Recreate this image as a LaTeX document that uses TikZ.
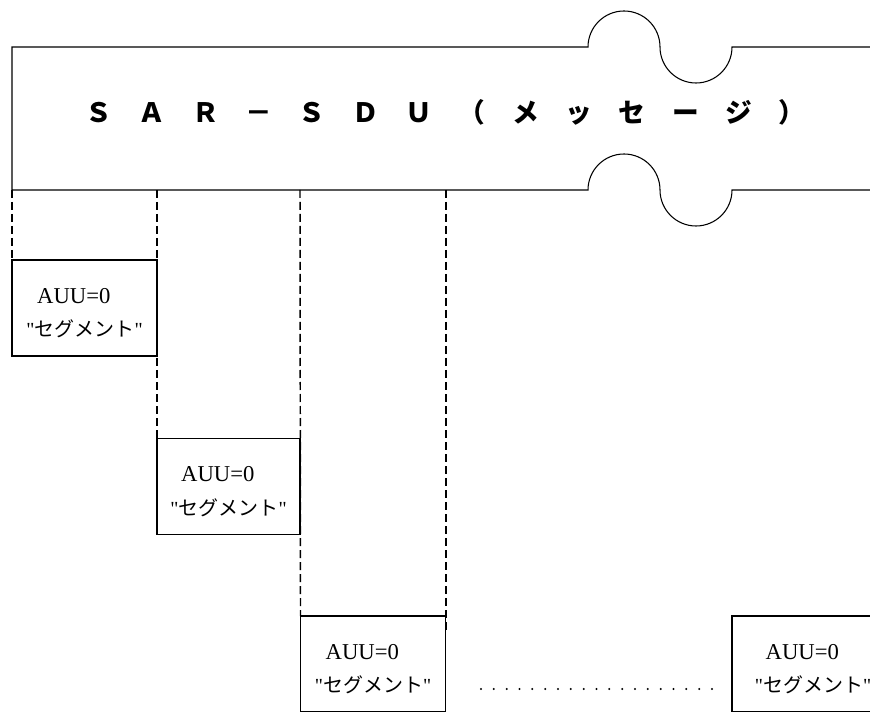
\documentclass[tikz,border=0pt]{standalone}
\usepackage{fontspec}
\setmainfont{Liberation Serif}
\newfontfamily\segfont{Liberation Serif}
\newfontfamily\jpfont{Noto Sans CJK JP}
% two lines of each segment box
\newcommand{\seglabel}{\rule{0pt}{19pt}AUU=0\kern 16pt\\%
  {\fontsize{15}{18}\selectfont"{\jpfont セグメント}"}}

\begin{document}
\begin{tikzpicture}[x=0.75pt, y=0.75pt, line width=0.8pt,
  segbox/.style={draw, shape=rectangle, outer sep=0pt, inner sep=0pt,
    minimum width=108.75pt, minimum height=72pt, align=center,
    font=\segfont\fontsize{17}{25}\selectfont},
  cut/.style={dash pattern=on 6pt off 3pt, line width=1.1pt},
  more/.style={dash pattern=on 0pt off 9.625pt, line cap=round, line width=1.7pt}]
\useasboundingbox (0,0) rectangle (870,711);
\clip (0,0) rectangle (870,711);

% message band, torn at the right
\draw (870,664) -- (732,664) arc[start angle=0, end angle=-180, radius=36]
  arc[start angle=0, end angle=180, radius=36] -- (12,664) -- (12,521)
  -- (588,521) arc[start angle=180, end angle=0, radius=36]
  arc[start angle=180, end angle=360, radius=36] -- (870,521);
\node[anchor=base west, inner sep=0pt, font=\jpfont\bfseries\fontsize{20}{24}\selectfont] (msg) at (85,588)
  {Ｓ　Ａ　Ｒ　－　Ｓ　Ｄ　Ｕ　（　メ　ッ　セ　ー　ジ　）};

% segments
\node[segbox] (seg1) at (84.5,403) {\seglabel};
\node[segbox, minimum width=107.25pt] (seg2) at (228.5,224.5) {\seglabel};
\node[segbox] (seg3) at (373,47) {\seglabel};
\node[segbox, minimum width=121.5pt] (seg4) at (813,47) {\seglabel};

% cut lines down from the message
\foreach \x [count=\i] in {12,157,300,446}
  \coordinate (cut\i) at (\x,521);
\coordinate (cut4end) at (446,79);
\draw[cut] (cut1) -- (seg1.north west);
\draw[cut] (cut2) -- (seg2.north west);
\draw[cut] (cut3) -- (seg3.north west);
\draw[cut] (cut4) -- (cut4end);

\coordinate (dots1) at (481,22);
\coordinate (dots2) at (713,22);
\draw[more] (dots1) -- (dots2);
\end{tikzpicture}
\end{document}
